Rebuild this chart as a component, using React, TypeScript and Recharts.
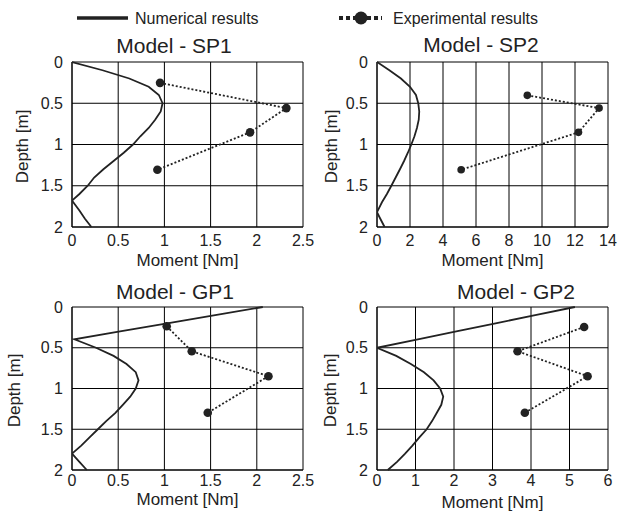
import React from "react";
import { CartesianGrid, Scatter, ScatterChart, XAxis, YAxis } from "recharts";

// depth [m] / moment [Nm]
const sp1Depth = [0, 0.1, 0.2, 0.3, 0.4, 0.5, 0.6, 0.7, 0.8, 0.9, 1.0, 1.1, 1.2, 1.3, 1.4, 1.5, 1.6, 1.68, 1.8, 1.9, 2.0];
const sp1Num = [0, 0.33, 0.62, 0.83, 0.94, 0.98, 0.96, 0.9, 0.83, 0.74, 0.66, 0.56, 0.45, 0.34, 0.24, 0.17, 0.08, 0, 0.08, 0.14, 0.21];
const sp1ExpDepth = [0.253, 0.559, 0.853, 1.306];
const sp1Exp = [0.953, 2.32, 1.927, 0.924];

const sp2Depth = [0, 0.1, 0.2, 0.3, 0.4, 0.5, 0.6, 0.7, 0.8, 0.9, 1.0, 1.1, 1.2, 1.3, 1.4, 1.5, 1.6, 1.7, 1.82, 1.9, 2.0];
const sp2Num = [0, 0.75, 1.45, 2.0, 2.36, 2.5, 2.56, 2.53, 2.42, 2.27, 2.08, 1.87, 1.64, 1.39, 1.13, 0.87, 0.6, 0.3, 0, 0.2, 0.46];
const sp2ExpDepth = [0.404, 0.559, 0.853, 1.306];
const sp2Exp = [9.11, 13.46, 12.21, 5.1];

const gp1Depth = [0, 0.1, 0.2, 0.3, 0.396, 0.5, 0.6, 0.7, 0.8, 0.9, 1.0, 1.1, 1.2, 1.3, 1.4, 1.5, 1.6, 1.7, 1.8, 1.9, 2.0];
const gp1Num = [2.065, 1.55, 1.03, 0.52, 0.025, 0.26, 0.45, 0.59, 0.69, 0.72, 0.69, 0.63, 0.55, 0.47, 0.37, 0.28, 0.19, 0.1, 0, 0.08, 0.16];
const gp1ExpDepth = [0.237, 0.543, 0.849, 1.298];
const gp1Exp = [1.025, 1.296, 2.126, 1.469];

const gp2Depth = [0, 0.1, 0.2, 0.3, 0.4, 0.5, 0.6, 0.7, 0.8, 0.9, 1.0, 1.1, 1.2, 1.3, 1.4, 1.5, 1.6, 1.7, 1.8, 1.9, 2.0];
const gp2Num = [5.14, 4.11, 3.08, 2.06, 1.03, 0, 0.5, 0.88, 1.22, 1.47, 1.64, 1.72, 1.67, 1.55, 1.43, 1.29, 1.1, 0.92, 0.73, 0.52, 0.28];
const gp2ExpDepth = [0.245, 0.543, 0.849, 1.298];
const gp2Exp = [5.38, 3.65, 5.47, 3.84];

const depthTicks = [0, 0.5, 1, 1.5, 2];
const smallTicks = [0, 0.5, 1, 1.5, 2, 2.5];
const sp2Ticks = [0, 2, 4, 6, 8, 10, 12, 14];
const gp2Ticks = [0, 1, 2, 3, 4, 5, 6];

const FONT = "'Liberation Sans', Arial, Helvetica, sans-serif";
const INK = "#222";
const TOP = 12;

const zip = (d: number[], m: number[]) => d.map((v, i) => ({ d: v, m: m[i] }));

type PanelProps = {
  left: number;
  plotTop: number;
  width: number;
  rightMargin: number;
  plotH: number;
  xTicks: number[];
  num: { d: number; m: number }[];
  exp: { d: number; m: number }[];
  yLabelX: number;
  xLabelDy: number;
  tickGap: number;
  dotR: number;
};

function Panel(p: PanelProps) {
  const xMax = p.xTicks[p.xTicks.length - 1];
  const height = TOP + p.plotH + 45;
  return (
    <div style={{ position: "absolute", left: p.left, top: p.plotTop - TOP }}>
      <ScatterChart width={p.width} height={height} margin={{ top: TOP, right: p.rightMargin, bottom: 0, left: 0 }}>
        <CartesianGrid stroke="#000" strokeWidth={1} />
        <XAxis
          type="number"
          dataKey="m"
          domain={[0, xMax]}
          ticks={p.xTicks}
          allowDataOverflow
          height={45}
          axisLine={{ stroke: "#000" }}
          tickLine={false}
          tickMargin={p.tickGap}
          tick={{ fill: INK, fontSize: 16, fontFamily: FONT }}
          interval={0}
          label={{
            content: (lp: any) => {
              const vb = lp.viewBox || { x: 72, y: p.plotH + TOP, width: p.width - 72 - p.rightMargin };
              return (
                <text x={vb.x + vb.width / 2} y={vb.y + p.xLabelDy} textAnchor="middle" fontSize={17} fontFamily={FONT} fill={INK}>
                  Moment [Nm]
                </text>
              );
            },
          }}
        />
        <YAxis
          type="number"
          dataKey="d"
          domain={[0, 2]}
          reversed
          ticks={depthTicks}
          width={72}
          axisLine={{ stroke: "#000" }}
          tickLine={false}
          tickMargin={3}
          interval={0}
          tick={{ fill: INK, fontSize: 16, fontFamily: FONT }}
          label={{
            content: (lp: any) => {
              const vb = lp.viewBox || { x: 0, y: TOP, height: p.plotH };
              const cy = vb.y + vb.height / 2 + 2;
              return (
                <text
                  x={p.yLabelX}
                  y={cy}
                  transform={`rotate(-90 ${p.yLabelX} ${cy})`}
                  textAnchor="middle"
                  dominantBaseline="central"
                  fontSize={17}
                  fontFamily={FONT}
                  fill={INK}
                >
                  Depth [m]
                </text>
              );
            },
          }}
        />
        <Scatter
          data={p.num}
          fill={INK}
          line={{ stroke: "#222", strokeWidth: 1.8 }}
          lineType="joint"
          shape={() => <g />}
          isAnimationActive={false}
        />
        <Scatter
          data={p.exp}
          fill={INK}
          line={{ stroke: "#222", strokeWidth: 1.8, strokeDasharray: "2 2" }}
          lineType="joint"
          shape={(sp: any) => <circle cx={sp.cx} cy={sp.cy} r={p.dotR} fill={INK} />}
          isAnimationActive={false}
        />
      </ScatterChart>
    </div>
  );
}

export default function App() {
  return (
    <div
      style={{
        position: "fixed",
        left: 0,
        top: 0,
        width: 618,
        height: 512,
        background: "#fff",
        overflow: "hidden",
        fontFamily: FONT,
      }}
    >
      <svg width={618} height={512} style={{ position: "absolute", left: 0, top: 0 }}>
        {/* legend */}
        <line x1={77} y1={18} x2={128} y2={18} stroke={INK} strokeWidth={3.5} />
        <text x={135} y={24} fontSize={16} fontFamily={FONT} fill={INK}>
          Numerical results
        </text>
        <line x1={339} y1={18} x2={382} y2={18} stroke={INK} strokeWidth={4} strokeDasharray="4 3" />
        <circle cx={361} cy={18} r={6.5} fill={INK} />
        <text x={393} y={24} fontSize={16} fontFamily={FONT} fill={INK}>
          Experimental results
        </text>
        {/* titles */}
        <text x={174} y={53} textAnchor="middle" fontSize={21} fontFamily={FONT} fill={INK}>
          Model - SP1
        </text>
        <text x={481} y={52} textAnchor="middle" fontSize={21} fontFamily={FONT} fill={INK}>
          Model - SP2
        </text>
        <text x={175} y={299} textAnchor="middle" fontSize={21} fontFamily={FONT} fill={INK}>
          Model - GP1
        </text>
        <text x={516} y={299} textAnchor="middle" fontSize={21} fontFamily={FONT} fill={INK}>
          Model - GP2
        </text>
      </svg>
      <Panel
        left={0}
        plotTop={62}
        width={320}
        rightMargin={17}
        plotH={165}
        xTicks={smallTicks}
        num={zip(sp1Depth, sp1Num)}
        exp={zip(sp1ExpDepth, sp1Exp)}
        yLabelX={22}
        xLabelDy={39}
        tickGap={2}
        dotR={4.3}
      />
      <Panel
        left={305}
        plotTop={62}
        width={313}
        rightMargin={10}
        plotH={165}
        xTicks={sp2Ticks}
        num={zip(sp2Depth, sp2Num)}
        exp={zip(sp2ExpDepth, sp2Exp)}
        yLabelX={26}
        xLabelDy={39}
        tickGap={2}
        dotR={3.8}
      />
      <Panel
        left={0}
        plotTop={307}
        width={320}
        rightMargin={17}
        plotH={163}
        xTicks={smallTicks}
        num={zip(gp1Depth, gp1Num)}
        exp={zip(gp1ExpDepth, gp1Exp)}
        yLabelX={14}
        xLabelDy={35}
        tickGap={-1}
        dotR={4.3}
      />
      <Panel
        left={305}
        plotTop={307}
        width={313}
        rightMargin={10}
        plotH={163}
        xTicks={gp2Ticks}
        num={zip(gp2Depth, gp2Num)}
        exp={zip(gp2ExpDepth, gp2Exp)}
        yLabelX={25}
        xLabelDy={38}
        tickGap={-1}
        dotR={4.3}
      />
    </div>
  );
}
